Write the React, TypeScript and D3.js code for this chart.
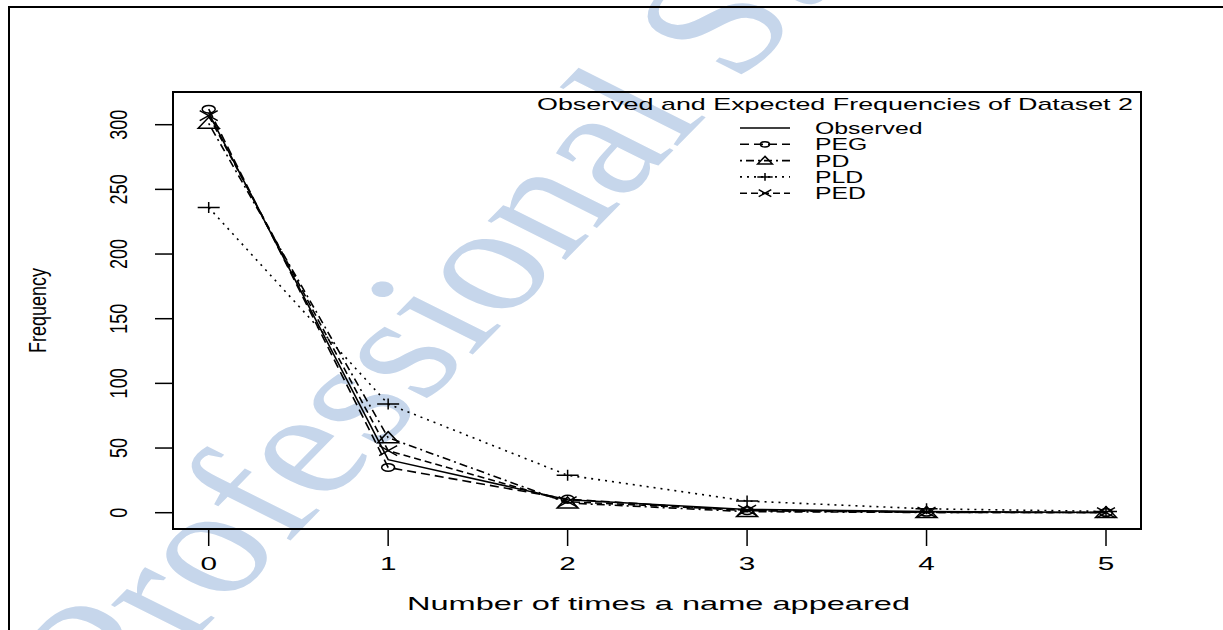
import { useMemo } from 'react';
import * as d3 from 'd3';

// counts 0..5 and the fitted frequencies
const counts = [0, 1, 2, 3, 4, 5];
const observed = [309, 41, 10, 2.5, 0.8, 0.2];
const peg = [312, 35, 10.5, 1.5, 0.3, 0.1];
const pd = [301, 58, 7.5, 0.8, 0.2, 0.1];
const pld = [236, 84, 29, 9, 3, 1];
const ped = [307, 48, 8.5, 2, 0.5, 0.1];
const yTicks = [0, 50, 100, 150, 200, 250, 300];
const legendNames = ['Observed', 'PEG', 'PD', 'PLD', 'PED'];

const W = 1223;
const H = 630;
const box = { left: 173, top: 92, right: 1141, bottom: 529 };
const FONT = "'Liberation Sans', Arial, Helvetica, sans-serif";

type Marker = 'none' | 'circle' | 'triangle' | 'plus' | 'cross';

const series: { name: string; values: number[]; dash: string | null; marker: Marker }[] = [
    { name: legendNames[0], values: observed, dash: null, marker: 'none' },
    { name: legendNames[1], values: peg, dash: '9,5', marker: 'circle' },
    { name: legendNames[2], values: pd, dash: '2,4,8,4', marker: 'triangle' },
    { name: legendNames[3], values: pld, dash: '2,5', marker: 'plus' },
    { name: legendNames[4], values: ped, dash: '7,4', marker: 'cross' },
];

// markers are drawn wide because the original figure is stretched sideways
const MarkerShape = ({ type, x, y, k = 1 }: { type: Marker; x: number; y: number; k?: number }) => {
    const sw = 1.5;
    if (type === 'circle') {
        return <ellipse cx={x} cy={y} rx={6.5 * k} ry={3.8 * k} fill="none" stroke="#000" strokeWidth={sw} />;
    }
    if (type === 'triangle') {
        const w = 10.5 * k;
        const h = 11 * k;
        return (
            <path
                d={`M${x},${y - h * 0.55} L${x + w},${y + h * 0.45} L${x - w},${y + h * 0.45} Z`}
                fill="none"
                stroke="#000"
                strokeWidth={sw}
            />
        );
    }
    if (type === 'plus') {
        return (
            <path d={`M${x - 11 * k},${y} H${x + 11 * k} M${x},${y - 5.5 * k} V${y + 5.5 * k}`} stroke="#000" strokeWidth={sw} />
        );
    }
    if (type === 'cross') {
        return (
            <path
                d={`M${x - 9 * k},${y - 5 * k} L${x + 9 * k},${y + 5 * k} M${x - 9 * k},${y + 5 * k} L${x + 9 * k},${y - 5 * k}`}
                stroke="#000"
                strokeWidth={sw}
            />
        );
    }
    return null;
};

const App = () => {
    const x = useMemo(() => d3.scaleLinear().domain([0, 5]).range([208.7, 1106]), []);
    const y = useMemo(() => d3.scaleLinear().domain([0, 300]).range([512.7, 124.7]), []);

    const line = d3
        .line<number>()
        .x((_, i) => x(counts[i]))
        .y(d => y(d));

    const legendX = 740;
    const legendY0 = 128;
    const legendStep = 16.3;

    return (
        <svg width={W} height={H} style={{ position: 'absolute', left: 0, top: 0, background: '#fff' }}>
            {/* watermark */}
            <text
                transform="scale(1.4,1) translate(86,714) rotate(-55)"
                fill="#c6d6eb"
                fontFamily="'Liberation Serif', 'Times New Roman', serif"
                fontSize={148}
            >
                Professional Studies
            </text>

            {/* outer frame */}
            <rect x={9} y={7} width={1260} height={660} fill="none" stroke="#000" strokeWidth={2} />

            {/* plot box */}
            <rect
                x={box.left}
                y={box.top}
                width={box.right - box.left}
                height={box.bottom - box.top}
                fill="none"
                stroke="#000"
                strokeWidth={2}
            />

            {/* y axis */}
            {yTicks.map(t => (
                <g key={t}>
                    <line x1={155} x2={box.left} y1={y(t)} y2={y(t)} stroke="#000" strokeWidth={1.5} />
                    <text
                        transform={`translate(127,${y(t)}) scale(1.3,1) rotate(-90)`}
                        textAnchor="middle"
                        fontFamily={FONT}
                        fontSize={18}
                    >
                        {t}
                    </text>
                </g>
            ))}
            <text
                transform={`translate(46,${(box.top + box.bottom) / 2}) scale(1.3,1) rotate(-90)`}
                textAnchor="middle"
                fontFamily={FONT}
                fontSize={18}
            >
                Frequency
            </text>

            {/* x axis */}
            {counts.map(c => (
                <g key={c}>
                    <line x1={x(c)} x2={x(c)} y1={box.bottom} y2={box.bottom + 17} stroke="#000" strokeWidth={1.5} />
                    <text
                        transform={`translate(${x(c)},570) scale(1.65,1)`}
                        textAnchor="middle"
                        fontFamily={FONT}
                        fontSize={18}
                    >
                        {c}
                    </text>
                </g>
            ))}
            <text
                x={407}
                y={610}
                textLength={503}
                lengthAdjust="spacingAndGlyphs"
                fontFamily={FONT}
                fontSize={19}
            >
                Number of times a name appeared
            </text>

            {/* series */}
            {series.map(s => (
                <g key={s.name}>
                    <path
                        d={line(s.values) ?? ''}
                        fill="none"
                        stroke="#000"
                        strokeWidth={1.6}
                        strokeDasharray={s.dash ?? undefined}
                    />
                    {s.values.map((v, i) => (
                        <MarkerShape key={i} type={s.marker} x={x(counts[i])} y={y(v)} />
                    ))}
                </g>
            ))}

            {/* legend */}
            <text
                x={537}
                y={110}
                textLength={596}
                lengthAdjust="spacingAndGlyphs"
                fontFamily={FONT}
                fontSize={17}
            >
                Observed and Expected Frequencies of Dataset 2
            </text>
            {series.map((s, i) => {
                const ly = legendY0 + i * legendStep;
                return (
                    <g key={s.name}>
                        <line
                            x1={legendX}
                            x2={legendX + 50}
                            y1={ly}
                            y2={ly}
                            stroke="#000"
                            strokeWidth={1.6}
                            strokeDasharray={s.dash ?? undefined}
                        />
                        <MarkerShape type={s.marker} x={legendX + 25} y={ly} k={0.7} />
                        <text
                            transform={`translate(815,${ly + 6}) scale(1.55,1)`}
                            fontFamily={FONT}
                            fontSize={16}
                        >
                            {s.name}
                        </text>
                    </g>
                );
            })}
        </svg>
    );
};

export default App;
